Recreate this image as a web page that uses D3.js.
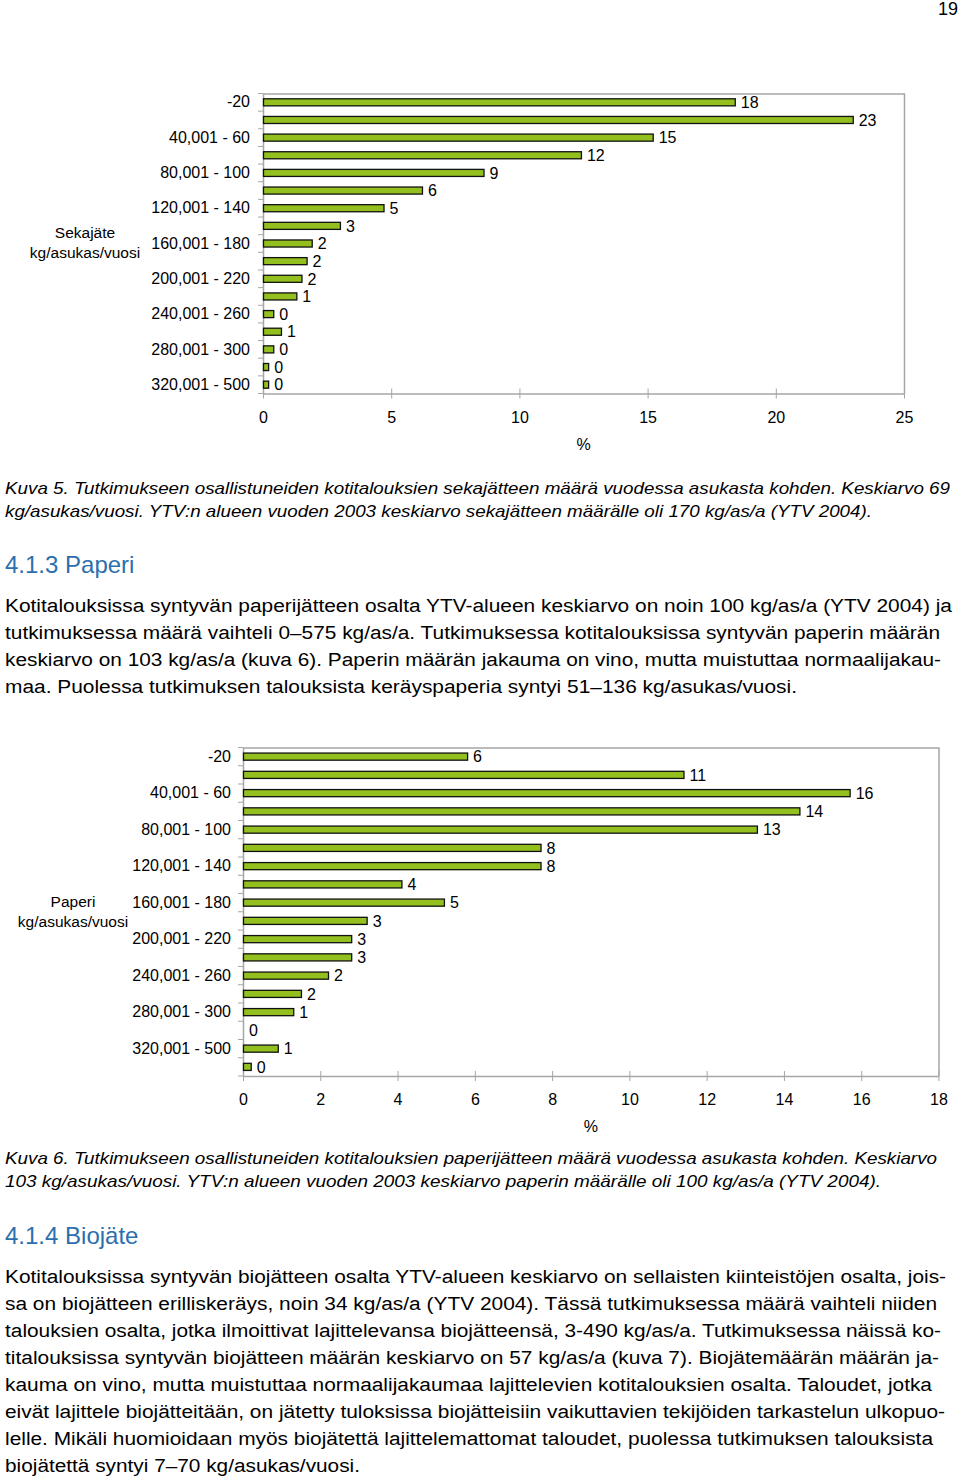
<!DOCTYPE html>
<html>
<head>
<meta charset="utf-8">
<script src="https://cdn.jsdelivr.net/npm/d3@7"></script>
<style>
  html, body { margin: 0; padding: 0; background: #fff; }
  svg { display: block; }
  text { font-family: "Liberation Sans", Arial, Helvetica, sans-serif; fill: #000; }
</style>
</head>
<body>
<svg id="page" width="960" height="1481"></svg>
<script>
// ---------------- DATA ----------------
const wasteCategories = ["-20", "20,001 - 40", "40,001 - 60", "60,001 - 80", "80,001 - 100",
  "100,001 - 120", "120,001 - 140", "140,001 - 160", "160,001 - 180", "180,001 - 200",
  "200,001 - 220", "220,001 - 240", "240,001 - 260", "260,001 - 280", "280,001 - 300",
  "300,001 - 320", "320,001 - 500"];
const wasteValues = [18.4, 23.0, 15.2, 12.4, 8.6, 6.2, 4.7, 3.0, 1.9, 1.7, 1.5, 1.3, 0.4, 0.7, 0.4, 0.2, 0.2];
const wasteTicks = [0, 5, 10, 15, 20, 25];

const paperCategories = ["-20", "20,001 - 40", "40,001 - 60", "60,001 - 80", "80,001 - 100",
  "100,001 - 120", "120,001 - 140", "140,001 - 160", "160,001 - 180", "180,001 - 200",
  "200,001 - 220", "220,001 - 240", "240,001 - 260", "260,001 - 280", "280,001 - 300",
  "300,001 - 320", "320,001 - 500", "500,001 -"];
const paperValues = [5.8, 11.4, 15.7, 14.4, 13.3, 7.7, 7.7, 4.1, 5.2, 3.2, 2.8, 2.8, 2.2, 1.5, 1.3, 0, 0.9, 0.2];
const paperTicks = [0, 2, 4, 6, 8, 10, 12, 14, 16, 18];

const wasteTitle = ["Sekajäte", "kg/asukas/vuosi"];
const paperTitle = ["Paperi", "kg/asukas/vuosi"];
const axisTitle = "%";

const caption5 = [
  "Kuva 5. Tutkimukseen osallistuneiden kotitalouksien sekajätteen määrä vuodessa asukasta kohden. Keskiarvo 69",
  "kg/asukas/vuosi. YTV:n alueen vuoden 2003 keskiarvo sekajätteen määrälle oli 170 kg/as/a (YTV 2004)."
];
const caption6 = [
  "Kuva 6. Tutkimukseen osallistuneiden kotitalouksien paperijätteen määrä vuodessa asukasta kohden. Keskiarvo",
  "103 kg/asukas/vuosi. YTV:n alueen vuoden 2003 keskiarvo paperin  määrälle oli 100 kg/as/a (YTV 2004)."
];
const heading3 = "4.1.3 Paperi";
const heading4 = "4.1.4 Biojäte";
const para3 = [
  "Kotitalouksissa syntyvän paperijätteen osalta YTV-alueen keskiarvo on noin 100 kg/as/a (YTV 2004) ja",
  "tutkimuksessa määrä vaihteli 0–575 kg/as/a. Tutkimuksessa kotitalouksissa syntyvän paperin määrän",
  "keskiarvo on 103 kg/as/a (kuva 6). Paperin määrän jakauma on vino, mutta muistuttaa normaalijakau-",
  "maa. Puolessa tutkimuksen talouksista keräyspaperia syntyi 51–136 kg/asukas/vuosi."
];
const para4 = [
  "Kotitalouksissa syntyvän biojätteen osalta YTV-alueen keskiarvo on sellaisten kiinteistöjen osalta, jois-",
  "sa on biojätteen erilliskeräys, noin 34 kg/as/a (YTV 2004). Tässä tutkimuksessa määrä vaihteli niiden",
  "talouksien osalta, jotka ilmoittivat lajittelevansa biojätteensä, 3-490 kg/as/a. Tutkimuksessa näissä ko-",
  "titalouksissa syntyvän biojätteen määrän keskiarvo on 57 kg/as/a (kuva 7). Biojätemäärän määrän ja-",
  "kauma on vino, mutta muistuttaa normaalijakaumaa lajittelevien kotitalouksien osalta. Taloudet, jotka",
  "eivät lajittele biojätteitään, on jätetty tuloksissa biojätteisiin vaikuttavien tekijöiden tarkastelun ulkopuo-",
  "lelle. Mikäli huomioidaan myös biojätettä lajittelemattomat taloudet, puolessa tutkimuksen talouksista",
  "biojätettä syntyi 7–70 kg/asukas/vuosi."
];
const pageNumber = "19";

// ---------------- LAYOUT / STYLE ----------------
const svg = d3.select("#page");
const BAR_FILL = "#93c01f";
const FRAME = "#a6a6a6";
const HEAD_BLUE = "#2c6fae";

svg.append("text").attr("x", 958).attr("y", 15).attr("text-anchor", "end")
  .style("font-size", "18px").text(pageNumber);

function drawChart(cfg) {
  const g = svg.append("g");
  const x = d3.scaleLinear().domain(cfg.domain).range([cfg.left, cfg.right]);
  const y = d3.scaleBand().domain(cfg.categories).range([cfg.top, cfg.bottom])
    .paddingInner(cfg.pad).paddingOuter(cfg.pad / 2);
  const data = cfg.categories.map((c, i) => ({ c, v: cfg.values[i] }));

  // frame (top + right border)
  g.append("path")
    .attr("d", `M${cfg.left},${cfg.top + 0.5}H${cfg.right + 0.5}V${cfg.bottom}`)
    .attr("fill", "none").attr("stroke", FRAME).attr("stroke-width", 1.5);

  // x axis
  const xa = g.append("g").attr("transform", `translate(0,${cfg.bottom})`)
    .call(d3.axisBottom(x).tickValues(cfg.ticks).tickSize(5).tickSizeOuter(0).tickPadding(13));
  xa.select(".domain").attr("stroke", FRAME).attr("stroke-width", 1.5);
  xa.selectAll(".tick line").attr("stroke", FRAME).attr("y1", -5).attr("y2", 5);
  xa.selectAll(".tick text").style("font-size", "16px").style("font-family", "Liberation Sans, Arial, sans-serif").attr("fill", "#000");

  // y axis (labels on every other category, ticks at band boundaries)
  const ya = g.append("g").attr("transform", `translate(${cfg.left},0)`)
    .call(d3.axisLeft(y).tickSize(0).tickPadding(cfg.labelPad)
      .tickFormat((d, i) => i % 2 === 0 ? d : ""));
  ya.select(".domain").attr("stroke", FRAME).attr("stroke-width", 1.5);
  ya.selectAll(".tick text").style("font-size", "16px").style("font-family", "Liberation Sans, Arial, sans-serif").attr("fill", "#000");
  const step = y.step();
  const bounds = d3.range(cfg.categories.length + 1).map(i => cfg.top + i * step);
  g.selectAll(".ybound").data(bounds).join("line")
    .attr("x1", cfg.left - 5).attr("x2", cfg.left)
    .attr("y1", d => d).attr("y2", d => d)
    .attr("stroke", FRAME).attr("stroke-width", 1);

  // bars
  g.selectAll(".bar").data(data.filter(d => d.v > 0)).join("rect")
    .attr("x", x(0) + 0.5).attr("y", d => y(d.c))
    .attr("width", d => Math.max(0, x(d.v) - x(0)))
    .attr("height", y.bandwidth())
    .attr("fill", BAR_FILL).attr("stroke", "#111").attr("stroke-width", 1.3);

  // value labels
  g.selectAll(".val").data(data).join("text")
    .attr("x", d => x(d.v) + 6).attr("y", d => y(d.c) + y.bandwidth() / 2)
    .attr("dy", "0.36em").style("font-size", "16px")
    .text(d => Math.round(d.v));

  // axis title
  g.append("text").attr("x", (cfg.left + cfg.right) / 2).attr("y", cfg.bottom + 56)
    .attr("text-anchor", "middle").style("font-size", "16px").text(axisTitle);

  // category title
  g.selectAll(".ct").data(cfg.title).join("text")
    .attr("x", cfg.titleX).attr("y", (d, i) => cfg.titleY + i * 20)
    .attr("text-anchor", "middle").style("font-size", "15.5px").text(d => d);
}

drawChart({
  categories: wasteCategories, values: wasteValues, ticks: wasteTicks, domain: [0, 25],
  left: 263, right: 904, top: 93.5, bottom: 393.5, pad: 0.6, labelPad: 13,
  title: wasteTitle, titleX: 85, titleY: 238
});
drawChart({
  categories: paperCategories, values: paperValues, ticks: paperTicks, domain: [0, 18],
  left: 243, right: 938.5, top: 747.5, bottom: 1076, pad: 0.61, labelPad: 12,
  title: paperTitle, titleX: 73, titleY: 907
});

// ---------------- TEXT BLOCKS ----------------
function lines(arr, cfg) {
  svg.append("g").selectAll("text").data(arr).join("text")
    .attr("x", 5).attr("y", (d, i) => cfg.y + i * cfg.lh)
    .style("font-size", cfg.size + "px")
    .style("font-style", cfg.italic ? "italic" : "normal")
    .attr("textLength", (d, i) => cfg.ends[i] ? cfg.ends[i] - 5 : null)
    .attr("lengthAdjust", cfg.adjust)
    .text(d => d);
}
lines(caption5, { y: 494, lh: 22.5, size: 17, italic: true, ends: [950, 872], adjust: "spacingAndGlyphs" });
lines(caption6, { y: 1164, lh: 23, size: 17, italic: true, ends: [937, 881], adjust: "spacingAndGlyphs" });
lines(para3, { y: 611.5, lh: 27, size: 18, ends: [952, 940, 941, 797], adjust: "spacingAndGlyphs" });
lines(para4, { y: 1282.5, lh: 27.1, size: 18, ends: [946, 937, 941, 939, 932, 945, 933, 360], adjust: "spacingAndGlyphs" });

svg.append("text").attr("x", 5).attr("y", 573).style("font-size", "24px")
  .style("fill", HEAD_BLUE).text(heading3);
svg.append("text").attr("x", 5).attr("y", 1244).style("font-size", "24px")
  .style("fill", HEAD_BLUE).text(heading4);
</script>
</body>
</html>
